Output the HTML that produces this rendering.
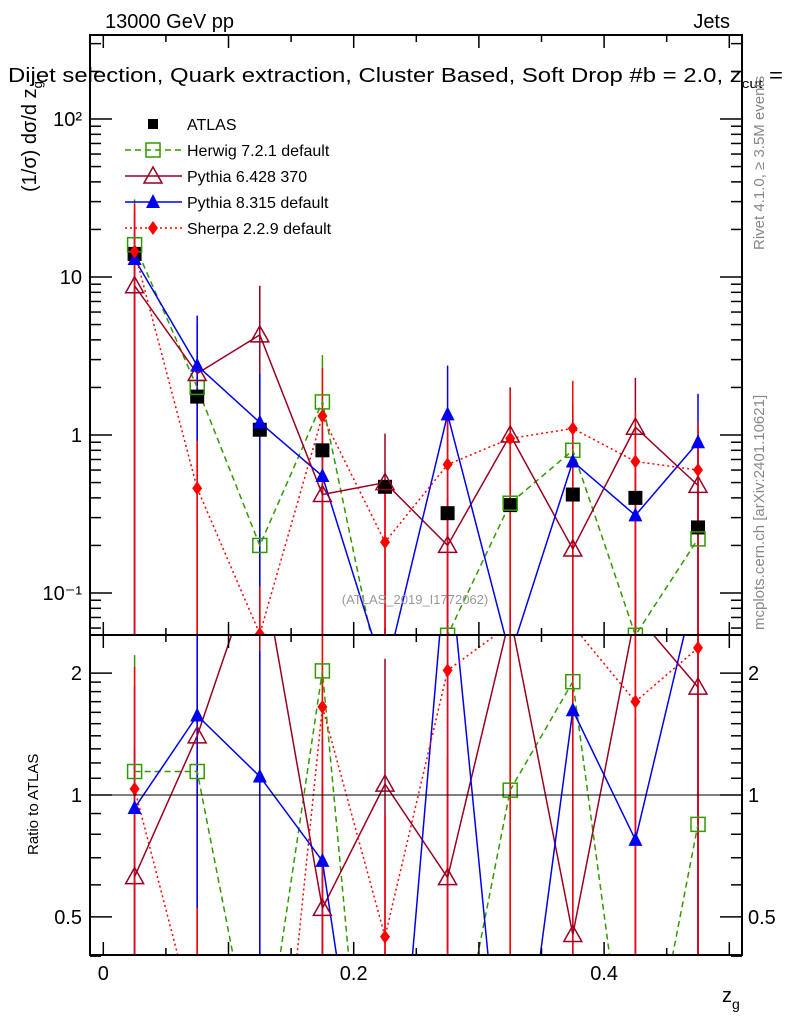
<!DOCTYPE html>
<html><head><meta charset="utf-8"><style>
html,body{margin:0;padding:0;background:#fff;overflow:hidden;width:786px;height:1024px;}
svg{display:block;font-family:"Liberation Sans",sans-serif;}
</style></head><body>
<svg id="c" width="786" height="1024" viewBox="0 0 786 1024">
<defs>
<clipPath id="cm"><rect x="90" y="35" width="652" height="600"/></clipPath>
<clipPath id="cr"><rect x="90" y="635" width="652" height="320"/></clipPath>
</defs>
<g id="main" clip-path="url(#cm)"></g>
<g id="ratio" clip-path="url(#cr)"></g>
<g id="axes"></g>
<text x="105" y="28" font-size="20">13000 GeV pp</text>
<text x="730" y="28" font-size="20" text-anchor="end">Jets</text>
<text x="8" y="82" font-size="20" textLength="775" lengthAdjust="spacingAndGlyphs">Dijet selection, Quark extraction, Cluster Based, Soft Drop #b = 2.0, z<tspan font-size="13" dy="6">cut</tspan><tspan dy="-6"> =</tspan></text>
<text transform="translate(36,192) rotate(-90)" font-size="20">(1/σ) dσ/d z<tspan font-size="13" dy="6">g</tspan></text>
<text transform="translate(38,855) rotate(-90)" font-size="15">Ratio to ATLAS</text>
<text x="722" y="1002" font-size="20">z<tspan font-size="14" dy="7">g</tspan></text>
<text transform="translate(764,250) rotate(-90)" font-size="15" fill="#888">Rivet 4.1.0, ≥ 3.5M events</text>
<text transform="translate(764,630) rotate(-90)" font-size="15" fill="#888">mcplots.cern.ch [arXiv:2401.10621]</text>
<text x="415" y="604" font-size="13" fill="#999" text-anchor="middle">(ATLAS_2019_I1772062)</text>
<g id="legend"></g>
</svg>
<script>
const xs=[0.025,0.075,0.125,0.175,0.225,0.275,0.325,0.375,0.425,0.475];
const atlas=[14,1.75,1.08,0.8,0.47,0.32,0.36,0.42,0.40,0.26];
const herwig=[16,2.0,0.2,1.62,0.02,0.054,0.37,0.8,0.054,0.22];
const herwigUp=[31,3.3,0.4,3.2,0.05,0.1,0.75,1.6,0.1,0.45];
const py6=[8.8,2.45,4.3,0.42,0.5,0.2,1.0,0.19,1.12,0.48];
const py6Up=[18,5,8.8,0.85,1.02,0.4,2.0,0.38,2.3,0.96];
const py8=[13,2.75,1.2,0.55,0.03,1.35,0.04,0.68,0.31,0.9];
const py8Up=[26,5.7,2.45,1.1,0.06,2.75,0.08,1.35,0.62,1.82];
const sherpa=[14.5,0.46,0.055,1.32,0.21,0.65,0.95,1.1,0.68,0.6];
const sherpaUp=[29,0.92,0.11,2.65,0.42,1.3,1.9,2.2,1.36,1.2];
const xTicks=[0,0.2,0.4];
const yTicksMain=[0.1,1,10,100];
const yTickLabelsMain=["10⁻¹","1","10","10²"];
const rTicks=[0.5,1,2];
const NS='http://www.w3.org/2000/svg';
const X=v=>103.3+v*1252;
const YM=v=>435-158*Math.log10(v);
const YR=v=>795-405*Math.log10(v);
function el(t,a,p){const e=document.createElementNS(NS,t);for(const k in a)e.setAttribute(k,a[k]);p.appendChild(e);return e;}
const main=document.getElementById('main'),ratio=document.getElementById('ratio'),axes=document.getElementById('axes'),leg=document.getElementById('legend');
function marker(type,col,x,y,g){
  let m;
  if(type==='sq'){m=el('rect',{x:x-7,y:y-7,width:14,height:14,fill:col},g);}
  else if(type==='osq'){m=el('rect',{x:x-7,y:y-7,width:14,height:14,fill:'#fff','fill-opacity':0,stroke:col,'stroke-width':1.5},g);}
  else if(type==='otri'){m=el('polygon',{points:`${x},${y-9} ${x-9},${y+7} ${x+9},${y+7}`,fill:'none',stroke:col,'stroke-width':1.5},g);}
  else if(type==='tri'){m=el('polygon',{points:`${x},${y-8} ${x-7},${y+6} ${x+7},${y+6}`,fill:col},g);}
  else {m=el('polygon',{points:`${x},${y-7} ${x-5},${y} ${x},${y+7} ${x+5},${y}`,fill:col},g);}
  
  
  return m;
}
const series=[
 {name:'Herwig 7.2.1 default',v:herwig,up:herwigUp,col:'#339900',dash:'6,4',m:'osq'},
 {name:'Pythia 6.428 370',v:py6,up:py6Up,col:'#990022',dash:'',m:'otri'},
 {name:'Pythia 8.315 default',v:py8,up:py8Up,col:'#0000ee',dash:'',m:'tri'},
 {name:'Sherpa 2.2.9 default',v:sherpa,up:sherpaUp,col:'#ff0000',dash:'2,3',m:'dia'}
];
series.forEach(s=>{
  xs.forEach((x,i)=>{
    const a=el('line',{x1:X(x),x2:X(x),y1:YM(s.up[i]),y2:640,stroke:s.col,'stroke-width':1.5},main);
    
    
    const b=el('line',{x1:X(x),x2:X(x),y1:YR(s.up[i]/atlas[i]),y2:960,stroke:s.col,'stroke-width':1.5},ratio);
    
    
  });
});
series.forEach(s=>{
  const pm=el('polyline',{points:xs.map((x,i)=>X(x)+','+YM(s.v[i])).join(' '),fill:'none',stroke:s.col,'stroke-width':1.5,'stroke-dasharray':s.dash},main);
  
  
  const pr=el('polyline',{points:xs.map((x,i)=>X(x)+','+YR(s.v[i]/atlas[i])).join(' '),fill:'none',stroke:s.col,'stroke-width':1.5,'stroke-dasharray':s.dash},ratio);
  
  
});
xs.forEach((x,i)=>marker('sq','#000',X(x),YM(atlas[i]),main));
series.forEach(s=>{xs.forEach((x,i)=>{marker(s.m,s.col,X(x),YM(s.v[i]),main);marker(s.m,s.col,X(x),YR(s.v[i]/atlas[i]),ratio);});});
const one=el('line',{x1:90,x2:742,y1:YR(1),y2:YR(1),stroke:'#000','stroke-width':1},ratio);


[[35,600],[635,320]].forEach(([y,h])=>{const f=el('rect',{x:90,y:y,width:652,height:h,fill:'none',stroke:'#000','stroke-width':2},axes);

});
function tk(x1,y1,x2,y2){el('line',{x1,y1,x2,y2,stroke:'#000','stroke-width':1.5},axes);}
for(let k=0;k<=10;k++){const v=k*0.05,x=X(v),L=(k%2===0)?13:7;
  tk(x,35,x,35+L);tk(x,635,x,635-L);tk(x,635,x,635+L);tk(x,955,x,955-L);}
xTicks.forEach(v=>{const t=el('text',{x:X(v),y:980,'font-size':20,'text-anchor':'middle'},axes);t.textContent=v===0?'0':v.toFixed(1);
});
for(let d=-2;d<=2;d++)for(let m=1;m<=9;m++){const v=m*Math.pow(10,d),y=YM(v);if(y<35||y>635)continue;const L=m===1?22:11;tk(90,y,90+L,y);tk(742,y,742-L,y);}
yTicksMain.forEach((v,i)=>{const t=el('text',{x:82,y:YM(v)+7,'font-size':20,'text-anchor':'end'},axes);t.textContent=yTickLabelsMain[i];
});
[0.4,0.5,0.6,0.7,0.8,0.9,1,2].forEach(v=>{const y=YR(v);const L=(v===0.5||v===1||v===2)?22:11;tk(90,y,90+L,y);tk(742,y,742-L,y);});
[1.1,1.2,1.3,1.4,1.5,1.6,1.7,1.8,1.9].forEach(v=>{const y=YR(v);tk(90,y,101,y);tk(742,y,731,y);});
rTicks.forEach(v=>{[[82,'end'],[748,'start']].forEach(([x,a])=>{const t=el('text',{x:x,y:YR(v)+7,'font-size':20,'text-anchor':a},axes);t.textContent=String(v);
});});
const entries=[{name:'ATLAS',col:'#000',m:'sq',dash:null}].concat(series);
entries.forEach((e,i)=>{const y=124+i*26;
  if(e.dash!==null){const l=el('line',{x1:125,x2:182,y1:y,y2:y,stroke:e.col,'stroke-width':1.5,'stroke-dasharray':e.dash},leg);}
  if(e.m==='sq'){const r=el('rect',{x:148,y:y-5,width:10,height:10,fill:'#000'},leg);}
  else marker(e.m,e.col,153,y,leg);
  const t=el('text',{x:187,y:y+6,'font-size':16},leg);t.textContent=e.name;
  
});
</script>
</body></html>
